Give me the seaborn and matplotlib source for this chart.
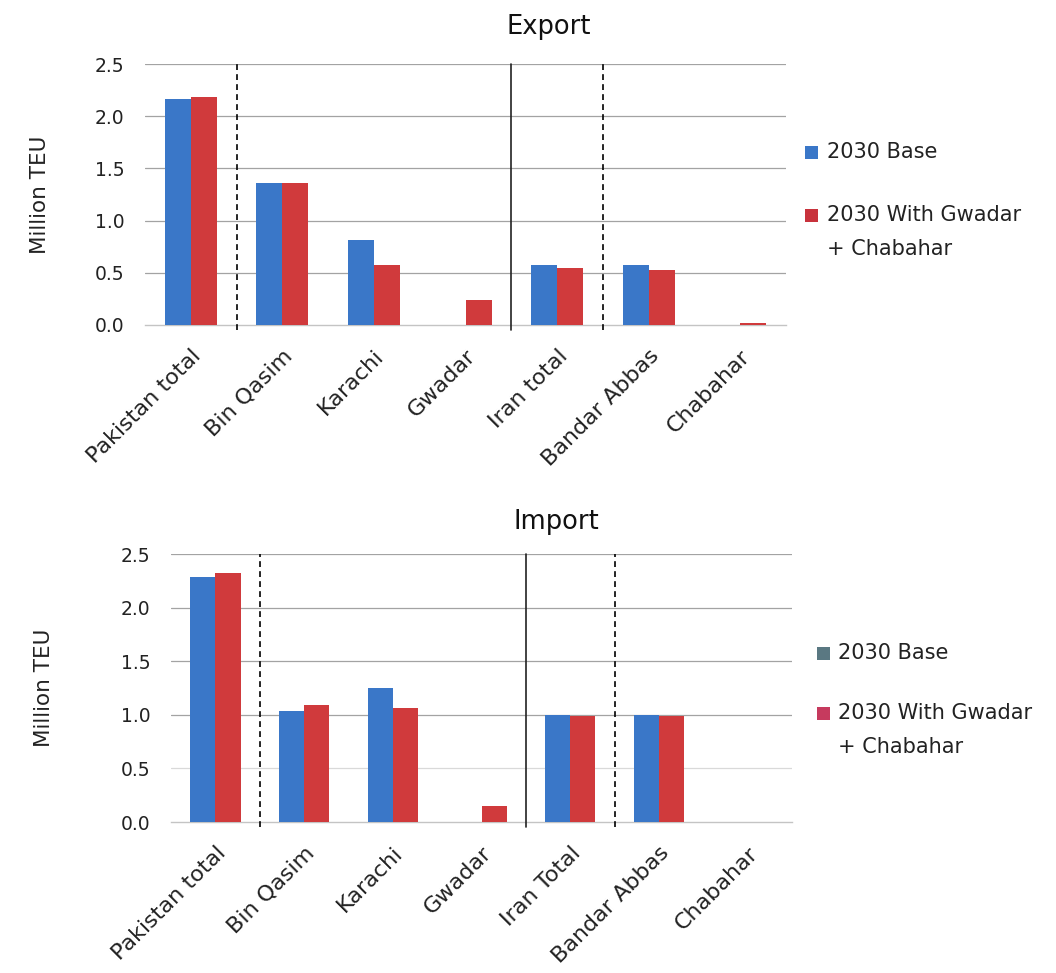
import matplotlib
matplotlib.use("Agg")
import matplotlib.pyplot as plt
import matplotlib.transforms as mtransforms
from matplotlib.patches import Rectangle
import seaborn as sns
import pandas as pd

# ---- data (million TEU) ----
export_ports = ["Pakistan total", "Bin Qasim", "Karachi", "Gwadar",
                "Iran total", "Bandar Abbas", "Chabahar"]
import_ports = ["Pakistan total", "Bin Qasim", "Karachi", "Gwadar",
                "Iran Total", "Bandar Abbas", "Chabahar"]
scenarios = ["2030 Base", "2030 With Gwadar + Chabahar"]

export_base = [2.16, 1.36, 0.81, 0.004, 0.57, 0.57, 0.004]
export_gwadar_chabahar = [2.18, 1.36, 0.575, 0.24, 0.545, 0.525, 0.015]
import_base = [2.29, 1.035, 1.25, 0.0, 1.0, 1.0, 0.0]
import_gwadar_chabahar = [2.32, 1.09, 1.06, 0.145, 0.99, 0.99, 0.0]

yticks = [0.0, 0.5, 1.0, 1.5, 2.0, 2.5]
legend_lines = [["2030 Base"], ["2030 With Gwadar", "+ Chabahar"]]

BLUE = "#3a77c8"
RED = "#d03a3c"

W, H = 1056, 973


def long_frame(ports, base, alt):
    rows = []
    for p, b, a in zip(ports, base, alt):
        rows.append({"port": p, "scenario": scenarios[0], "teu": b})
        rows.append({"port": p, "scenario": scenarios[1], "teu": a})
    return pd.DataFrame(rows)


def px_axes(fig, left, right, top, bottom):
    return fig.add_axes([left / W, 1 - bottom / H, (right - left) / W, (bottom - top) / H])


def draw_panel(fig, ax, ports, base, alt, faint_half=False):
    df = long_frame(ports, base, alt)
    sns.barplot(data=df, x="port", y="teu", hue="scenario", order=ports,
                hue_order=scenarios, palette=[BLUE, RED], width=0.57, gap=0,
                saturation=1, linewidth=0, legend=False, ax=ax, zorder=3)
    ax.set_xlim(-0.5, len(ports) - 0.5)
    ax.set_ylim(0, 2.5)
    ax.set_yticks(yticks)
    ax.set_yticklabels([f"{v:.1f}" for v in yticks])
    for v in yticks[1:]:
        col = "#d9d9d9" if (faint_half and v == 0.5) else "#a3a3a3"
        ax.axhline(v, color=col, lw=0.9, zorder=1)
    for s in ["top", "right", "left"]:
        ax.spines[s].set_visible(False)
    ax.spines["bottom"].set_color("#c4c4c4")
    ax.spines["bottom"].set_linewidth(1.0)
    ax.tick_params(axis="y", length=0, pad=15, labelsize=13.5, labelcolor="#222222")
    ax.tick_params(axis="x", which="major", length=0, pad=15, labelsize=16,
                   labelcolor="#222222")
    ax.set_xticks(range(len(ports)))
    ax.set_xticklabels(ports, rotation=45, ha="right", va="top",
                       rotation_mode="anchor")
    ax.set_xticks([i - 0.5 for i in range(len(ports) + 1)], minor=True)
    ax.tick_params(axis="x", which="minor", length=5, color="#bdbdbd", width=1)
    ax.set_xlabel("")
    # group separators
    ax.axvline(0.5, ymin=-0.02, ymax=1, color="black", lw=1.2,
               ls=(0, (3.5, 2.5)), zorder=4, clip_on=False)
    ax.axvline(3.5, ymin=-0.02, ymax=1, color="#222222", lw=1.2, zorder=4,
               clip_on=False)
    ax.axvline(4.5, ymin=-0.02, ymax=1, color="black", lw=1.2,
               ls=(0, (3.5, 2.5)), zorder=4, clip_on=False)


def draw_legend(fig, x_sq, x_txt, ys, colors):
    for lines, y, c in zip(legend_lines, ys, colors):
        fig.patches.append(Rectangle(((x_sq) / W, 1 - (y + 7) / H), 13 / W, 13 / H,
                                     transform=fig.transFigure, facecolor=c,
                                     edgecolor="none"))
        for k, line in enumerate(lines):
            fig.text(x_txt / W, 1 - (y + k * 34) / H, line, fontsize=15,
                     color="#222222", ha="left", va="center")


sns.set_style("white")
plt.rcParams["font.family"] = ["DejaVu Sans"]

fig = plt.figure(figsize=(W / 100, H / 100), dpi=100)
fig.patch.set_facecolor("white")

# Export panel
ax1 = px_axes(fig, 145, 786, 64, 325)
draw_panel(fig, ax1, export_ports, export_base, export_gwadar_chabahar)
ax1.set_ylabel("Million TEU", fontsize=15.5, color="#222222")
ax1.yaxis.set_label_coords((50 - 145) / (786 - 145), 0.5)
fig.text(549 / W, 1 - 27 / H, "Export", fontsize=18.5, color="#111111",
         ha="center", va="center")
draw_legend(fig, 805, 827, [152, 215], [BLUE, "#c8323c"])

# Import panel
ax2 = px_axes(fig, 171, 792, 554, 822)
draw_panel(fig, ax2, import_ports, import_base, import_gwadar_chabahar, faint_half=True)
ax2.set_ylabel("Million TEU", fontsize=15.5, color="#222222")
ax2.yaxis.set_label_coords((54 - 171) / (792 - 171), 0.5)
fig.text(556 / W, 1 - 522 / H, "Import", fontsize=18.5, color="#111111",
         ha="center", va="center")
draw_legend(fig, 817, 838, [653, 713], ["#5a7882", "#c63a5e"])

fig.savefig("out.png", dpi=100, facecolor="white")
